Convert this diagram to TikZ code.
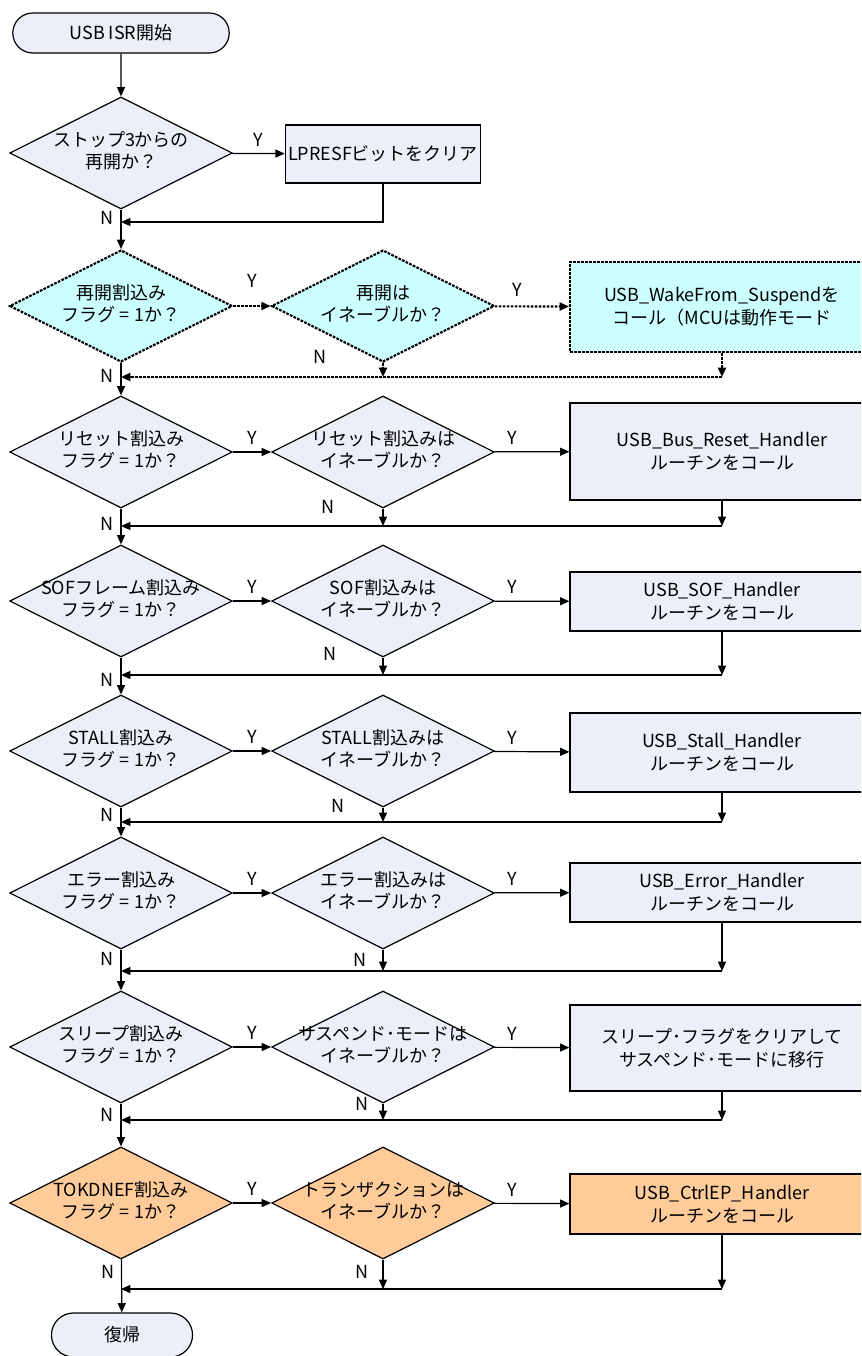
\documentclass[tikz,border=0pt]{standalone}
\usepackage{fontspec}
\setmainfont{Noto Sans CJK JP}
\usetikzlibrary{shapes.geometric, shapes.misc, arrows.meta, calc}
\definecolor{boxfill}{HTML}{ECEFF7}
\definecolor{wakefill}{HTML}{CCFFFF}
\definecolor{tokfill}{HTML}{FFCC99}
\newcommand{\twol}[2]{\makebox[0pt]{\begin{tabular}{@{}c@{}}#1\\#2\end{tabular}}}

\begin{document}
\begin{tikzpicture}[x=0.75pt, y=-0.75pt, >={Triangle[length=7pt,width=6pt]}, font=\fontsize{13.5pt}{17pt}\selectfont, line width=0.9pt,
  dec/.style={draw, diamond, fill=boxfill, minimum width=167pt, minimum height=84pt, inner sep=0pt},
  proc/.style={draw, rectangle, fill=boxfill, minimum width=228pt, align=center, inner sep=2pt},
  term/.style={draw, rounded rectangle, fill=boxfill},
  dotline/.style={dash pattern=on 2pt off 1pt, line width=1.6pt},
  wake/.style={dotline, fill=wakefill},
  tok/.style={fill=tokfill},
  yn/.style={inner sep=1pt}]
\useasboundingbox (0,0) rectangle (861,1356);
\clip (0,0) rectangle (861,1356);
% start + stop3
\node[term, minimum width=169pt, minimum height=30pt] (s0) at (121,33) {USB ISR開始};
\node[dec] (q1) at (121,153) {\twol{ストップ3からの}{再開か？}};
\node[proc, minimum width=142.5pt, minimum height=43.5pt] (p1) at (383,154) {LPRESFビットをクリア};
\coordinate (m1) at (121,222);
% resume
\node[dec, wake] (q2) at (121,306) {\twol{再開割込み}{フラグ = 1か？}};
\node[dec, wake] (e2) at (383,306) {\twol{再開は}{イネーブルか？}};
\node[proc, wake, minimum height=67.5pt] (p2) at (722,307) {USB\_WakeFrom\_Suspendを\\コール（MCUは動作モード};
\coordinate (m2) at (121,377);
% reset
\node[dec] (q3) at (121,452) {\twol{リセット割込み}{フラグ = 1か？}};
\node[dec] (e3) at (383,452) {\twol{リセット割込みは}{イネーブルか？}};
\node[proc, minimum height=72.75pt] (p3) at (722,451.5) {USB\_Bus\_Reset\_Handler\\ルーチンをコール};
\coordinate (m3) at (121,526);
% SOF
\node[dec] (q4) at (121,601) {\twol{SOFフレーム割込み}{フラグ = 1か？}};
\node[dec] (e4) at (383,601) {\twol{SOF割込みは}{イネーブルか？}};
\node[proc, minimum height=44.25pt] (p4) at (722,601.5) {USB\_SOF\_Handler\\ルーチンをコール};
\coordinate (m4) at (121,675);
% STALL
\node[dec] (q5) at (121,751) {\twol{STALL割込み}{フラグ = 1か？}};
\node[dec] (e5) at (383,751) {\twol{STALL割込みは}{イネーブルか？}};
\node[proc, minimum height=59.25pt] (p5) at (722,752.5) {USB\_Stall\_Handler\\ルーチンをコール};
\coordinate (m5) at (121,822);
% error
\node[dec] (q6) at (121,893) {\twol{エラー割込み}{フラグ = 1か？}};
\node[dec] (e6) at (383,893) {\twol{エラー割込みは}{イネーブルか？}};
\node[proc, minimum height=44.25pt] (p6) at (722,892.5) {USB\_Error\_Handler\\ルーチンをコール};
\coordinate (m6) at (121,971);
% sleep
\node[dec] (q7) at (121,1047) {\twol{スリープ割込み}{フラグ = 1か？}};
\node[dec] (e7) at (383,1047) {\twol{サスペンド･モードは}{イネーブルか？}};
\node[proc, minimum height=64.5pt] (p7) at (722,1048) {スリープ･フラグをクリアして\\サスペンド･モードに移行};
\coordinate (m7) at (121,1120);
% TOKDNEF
\node[dec, tok] (q8) at (121,1203) {\twol{TOKDNEF割込み}{フラグ = 1か？}};
\node[dec, tok] (e8) at (383,1203) {\twol{トランザクションは}{イネーブルか？}};
\node[proc, tok, minimum height=45pt] (p8) at (722,1204) {USB\_CtrlEP\_Handler\\ルーチンをコール};
\coordinate (m8) at (121,1289);
\node[term, minimum width=112.5pt, minimum height=33pt] (ret) at (122,1335) {復帰};

% trunk
\draw[->] (s0) -- (q1);
\draw[->] (q1) -- (q2) node[yn, pos=0.2, left=4pt] {N};
\draw[->] (q2) -- (q3) node[yn, pos=0.39, left=4pt] {N};
\draw[->] (q3) -- (q4) node[yn, pos=0.42, left=4pt] {N};
\draw[->] (q4) -- (q5) node[yn, pos=0.6, left=4pt] {N};
\draw[->] (q5) -- (q6) node[yn, pos=0.27, left=4pt] {N};
\draw[->] (q6) -- (q7) node[yn, pos=0.23, left=4pt] {N};
\draw[->] (q7) -- (q8) node[yn, pos=0.27, left=4pt] {N};
\draw[->] (q8) -- (ret) node[yn, pos=0.24, left=4pt] {N};

% row 1
\draw[->] (q1) -- (p1) node[yn, midway, above=4pt] {Y};
\draw[->] (p1.south) |- (m1);

% row 2
\draw[->, dotline] (q2) -- (e2) node[yn, midway, above=12pt] {Y};
\draw[->, dotline] (e2) -- (p2) node[yn, pos=0.3, above=6pt] {Y};
\draw[->, dotline] (e2.south) -- (e2.south |- m2) node[yn, pos=0, xshift=-47pt, yshift=4.5pt] {N};
\draw[->, dotline] (p2.south) -- (p2.south |- m2);
\draw[->, dotline] (p2.south |- m2) -- (m2);

% row 3
\draw[->] (q3) -- (e3) node[yn, midway, above=4pt] {Y};
\draw[->] (e3) -- (p3) node[yn, pos=0.24, above=4pt] {Y};
\draw[->] (e3.south) -- (e3.south |- m3) node[yn, pos=0, xshift=-41pt, yshift=1.5pt] {N};
\draw[->] (p3.south) -- (p3.south |- m3);
\draw[->] (p3.south |- m3) -- (m3);

% row 4
\draw[->] (q4) -- (e4) node[yn, midway, above=4pt] {Y};
\draw[->] (e4) -- (p4) node[yn, pos=0.24, above=4pt] {Y};
\draw[->] (e4.south) -- (e4.south |- m4) node[yn, pos=0, xshift=-40pt, yshift=3pt] {N};
\draw[->] (p4.south) -- (p4.south |- m4);
\draw[->] (p4.south |- m4) -- (m4);

% row 5
\draw[->] (q5) -- (e5) node[yn, midway, above=4pt] {Y};
\draw[->] (e5) -- (p5) node[yn, pos=0.24, above=4pt] {Y};
\draw[->] (e5.south) -- (e5.south |- m5) node[yn, pos=0, xshift=-34pt, yshift=1.5pt] {N};
\draw[->] (p5.south) -- (p5.south |- m5);
\draw[->] (p5.south |- m5) -- (m5);

% row 6
\draw[->] (q6) -- (e6) node[yn, midway, above=4pt] {Y};
\draw[->] (e6) -- (p6) node[yn, pos=0.24, above=4pt] {Y};
\draw[->] (e6.south) -- (e6.south |- m6) node[yn, pos=0, xshift=-17pt, yshift=-7.5pt] {N};
\draw[->] (p6.south) -- (p6.south |- m6);
\draw[->] (p6.south |- m6) -- (m6);

% row 7
\draw[->] (q7) -- (e7) node[yn, midway, above=4pt] {Y};
\draw[->] (e7) -- (p7) node[yn, pos=0.24, above=4pt] {Y};
\draw[->] (e7.south) -- (e7.south |- m7) node[yn, pos=0, xshift=-16pt] {N};
\draw[->] (p7.south) -- (p7.south |- m7);
\draw[->] (p7.south |- m7) -- (m7);

% row 8
\draw[->] (q8) -- (e8) node[yn, midway, above=4pt] {Y};
\draw[->] (e8) -- (p8) node[yn, pos=0.24, above=4pt] {Y};
\draw[->] (e8.south) -- (e8.south |- m8) node[yn, pos=0, xshift=-16pt, yshift=-9pt] {N};
\draw[->] (p8.south) -- (p8.south |- m8);
\draw[->] (p8.south |- m8) -- (m8);
\end{tikzpicture}
\end{document}
